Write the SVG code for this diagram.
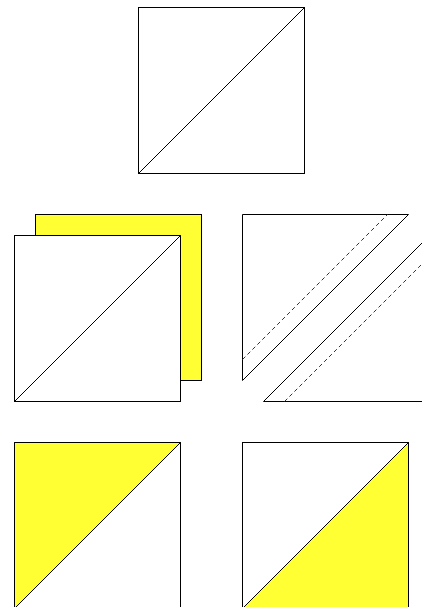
<svg xmlns="http://www.w3.org/2000/svg" width="422" height="607" viewBox="0 0 422 607">
<style>
.s{stroke:#000;stroke-width:1;fill:#fff}
.y{fill:#ffff33;stroke:#000;stroke-width:1}
.l{stroke:#000;stroke-width:1;fill:none}
.d{stroke:#333;stroke-width:1;fill:none;stroke-dasharray:4,3}
</style>
<rect width="422" height="607" fill="#fff"/>
<g id="top">
<rect class="s" x="138.5" y="7.5" width="166" height="166"/>
<line class="l" x1="138.5" y1="173.5" x2="304.5" y2="7.5"/>
</g>
<g id="midleft">
<rect class="y" x="35.5" y="214.5" width="166" height="166"/>
<rect class="s" x="14.5" y="235.5" width="166" height="166"/>
<line class="l" x1="14.5" y1="401.5" x2="180.5" y2="235.5"/>
</g>
<g id="midright">
<polygon class="s" points="242.5,214.5 408.5,214.5 242.5,380.5"/>
<polygon class="s" points="263.5,401.5 423,242 423,401.5"/>
<line class="d" x1="242.5" y1="359.5" x2="387.5" y2="214.5"/>
<line class="d" x1="284.5" y1="401.5" x2="423" y2="263"/>
</g>
<g id="botleft">
<rect class="s" x="14.5" y="442.5" width="166" height="166"/>
<polygon class="y" points="14.5,442.5 180.5,442.5 14.5,608.5"/>
</g>
<g id="botright">
<rect class="s" x="242.5" y="442.5" width="166" height="166"/>
<polygon class="y" points="408.5,442.5 408.5,608.5 242.5,608.5"/>
</g>
</svg>
